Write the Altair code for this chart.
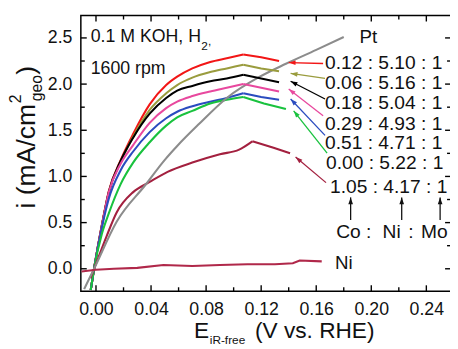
import math
import altair as alt
import pandas as pd

FONT = "Liberation Sans"
INK = "#111111"

X_DOMAIN = [-0.011, 0.2579]
Y_DOMAIN = [-0.243, 2.742]
W, H = 376, 280

# ---------------- curves ----------------
SERIES = ["0.12 : 5.10 : 1", "0.06 : 5.16 : 1", "0.18 : 5.04 : 1", "0.29 : 4.93 : 1",
          "0.51 : 4.71 : 1", "0.00 : 5.22 : 1", "1.05 : 4.17 : 1", "Pt", "Ni"]
COLORS = ["#f21616", "#9a9c3e", "#000000", "#e8489e", "#2b4cbf", "#19c23e",
          "#a3203f", "#8c8c8c", "#b0284a"]

alloy_x = [-0.0038, -0.0014, 0.0043, 0.0093, 0.018, 0.027, 0.039, 0.051, 0.059,
           0.07, 0.083, 0.095, 0.107, 0.12, 0.133]
green_x = [-0.0038, -0.0014, 0.0043, 0.0093, 0.018, 0.027, 0.039, 0.051, 0.059,
           0.07, 0.083, 0.095, 0.107, 0.122, 0.138]
red_y = [-0.23, 0.0, 0.48, 0.84, 1.18, 1.46, 1.78, 1.99, 2.08, 2.17, 2.24, 2.28, 2.32, 2.29, 2.25]
olive_y = [-0.23, 0.0, 0.47, 0.83, 1.16, 1.43, 1.72, 1.90, 1.99, 2.07, 2.13, 2.17, 2.21, 2.17, 2.14]
black_y = [-0.23, 0.0, 0.47, 0.83, 1.17, 1.42, 1.68, 1.85, 1.93, 1.98, 2.03, 2.06, 2.10, 2.06, 2.02]
pink_y = [-0.23, 0.0, 0.47, 0.83, 1.14, 1.34, 1.58, 1.74, 1.81, 1.87, 1.92, 1.96, 2.00, 1.96, 1.92]
blue_y = [-0.23, 0.0, 0.45, 0.76, 1.07, 1.27, 1.48, 1.63, 1.70, 1.76, 1.81, 1.85, 1.90, 1.86, 1.83]
green_y = [-0.23, 0.0, 0.38, 0.60, 0.92, 1.15, 1.37, 1.55, 1.64, 1.71, 1.79, 1.83, 1.86, 1.79, 1.73]

maroon_x = [-0.004, -0.0014, 0.0079, 0.015, 0.027, 0.039, 0.052, 0.07, 0.09, 0.104, 0.1136, 0.129, 0.141]
maroon_y = [-0.10, 0.0, 0.36, 0.61, 0.83, 0.94, 1.05, 1.15, 1.24, 1.29, 1.38, 1.31, 1.25]

pt_x = [-0.0086, -0.0014, 0.015, 0.036, 0.05, 0.059, 0.075, 0.095, 0.119, 0.138, 0.16, 0.180]
pt_y = [-0.22, 0.0, 0.51, 0.91, 1.18, 1.33, 1.57, 1.85, 2.08, 2.22, 2.37, 2.51]

ni_x = [-0.0105, 0.0, 0.013, 0.03, 0.049, 0.07, 0.09, 0.11, 0.13, 0.143, 0.148, 0.164]
ni_y = [-0.03, -0.01, 0.0, 0.01, 0.04, 0.03, 0.04, 0.05, 0.05, 0.06, 0.09, 0.08]

# (name, x, y, index of the kink; points after it are drawn straight)
CURVES = [
    (SERIES[0], alloy_x, red_y, 12),
    (SERIES[1], alloy_x, olive_y, 12),
    (SERIES[2], alloy_x, black_y, 12),
    (SERIES[3], alloy_x, pink_y, 12),
    (SERIES[4], alloy_x, blue_y, 12),
    (SERIES[5], green_x, green_y, 12),
    (SERIES[6], maroon_x, maroon_y, 10),
    (SERIES[7], pt_x, pt_y, None),
    (SERIES[8], ni_x, ni_y, 0),
]

rise, fall = [], []
for name, xs, ys, k in CURVES:
    for i, (xv, yv) in enumerate(zip(xs, ys)):
        if k is None or i <= k:
            rise.append(dict(series=name, x=xv, y=yv, o=i))
        if k is not None and i >= k:
            fall.append(dict(series=name, x=xv, y=yv, o=i))
rise_df = pd.DataFrame(rise)
fall_df = pd.DataFrame(fall)

# ---------------- annotations ----------------
arrow_series = SERIES[:7]
arrow_tx = [0.165, 0.1664, 0.1664, 0.165, 0.1664, 0.1679, 0.1671]
arrow_ty = [2.223, 2.063, 1.839, 1.658, 1.445, 1.253, 0.933]
arrow_hx = [0.140, 0.1414, 0.1414, 0.140, 0.1414, 0.1436, 0.145]
arrow_hy = [2.233, 2.116, 2.031, 1.946, 1.839, 1.711, 1.21]

up_x = [0.185, 0.2221, 0.25]
up_tail_y = [0.528, 0.528, 0.528]
up_head_y = [0.773, 0.773, 0.773]

PXX = W / (X_DOMAIN[1] - X_DOMAIN[0])
PXY = H / (Y_DOMAIN[1] - Y_DOMAIN[0])


def head_angle(tx, ty, hx, hy):
    dx = (hx - tx) * PXX
    dy = -(hy - ty) * PXY
    return math.degrees(math.atan2(dx, -dy)) % 360


arrows_df = pd.DataFrame(dict(series=arrow_series, tx=arrow_tx, ty=arrow_ty,
                              hx=arrow_hx, hy=arrow_hy))
arrows_df["angle"] = [head_angle(a, b, c, d) for a, b, c, d in
                      zip(arrow_tx, arrow_ty, arrow_hx, arrow_hy)]
up_df = pd.DataFrame(dict(tx=up_x, ty=up_tail_y, hx=up_x, hy=up_head_y))
up_df["angle"] = [head_angle(a, b, c, d) for a, b, c, d in
                  zip(up_x, up_tail_y, up_x, up_head_y)]

label_text = ["0.12 : 5.10 : 1", "0.06 : 5.16 : 1", "0.18 : 5.04 : 1", "0.29 : 4.93 : 1",
              "0.51 : 4.71 : 1", "0.00 : 5.22 : 1", "1.05 : 4.17 : 1",
              "Co", ":", "Ni", ":", "Mo",
              "Ni", "Pt", "0.1 M KOH, H", "1600 rpm"]
label_x = [0.1664, 0.1664, 0.1664, 0.1664, 0.1664, 0.1671, 0.1700,
           0.1745, 0.1962, 0.2082, 0.2268, 0.2361,
           0.1736, 0.1914, -0.0038, -0.0038]
label_y = [2.223, 2.009, 1.796, 1.572, 1.359, 1.146, 0.880,
           0.400, 0.400, 0.400, 0.400, 0.400,
           0.059, 2.511, 2.511, 2.159]
label_size = [19.5, 19.5, 19.5, 19.5, 19.5, 19.5, 19.5,
              19.5, 19.5, 19.5, 19.5, 19.5,
              19, 19, 18, 18]
labels_df = pd.DataFrame(dict(t=label_text, x=label_x, y=label_y, s=label_size))

small_text = ["2", ","]
small_x = [0.0764, 0.0814]
small_y = [2.415, 2.47]
small_df = pd.DataFrame(dict(t=small_text, x=small_x, y=small_y))

# tick positions
x_major = [0.0, 0.04, 0.08, 0.12, 0.16, 0.20, 0.24]
x_minor = [0.02, 0.06, 0.10, 0.14, 0.18, 0.22]
y_major = [0.0, 0.5, 1.0, 1.5, 2.0, 2.5]
y_minor = [0.25, 0.75, 1.25, 1.75, 2.25]

XS = alt.Scale(domain=X_DOMAIN, nice=False, zero=False)
YS = alt.Scale(domain=Y_DOMAIN, nice=False, zero=False)
CS = alt.Scale(domain=SERIES, range=COLORS)

x_axis = alt.Axis(values=x_major, format=".2f", ticks=False, grid=False, domain=False,
                  labelFont=FONT, labelFontSize=18, labelColor=INK, labelPadding=10,
                  title=None, labelFlush=False)
y_axis = alt.Axis(values=y_major, format=".1f", ticks=False, grid=False, domain=False,
                  labelFont=FONT, labelFontSize=18, labelColor=INK, labelPadding=9,
                  title=None)


def X(field):
    return alt.X(field, scale=XS, axis=x_axis, title=None)


def Y(field):
    return alt.Y(field, scale=YS, axis=y_axis, title=None)


COL = alt.Color("series:N", scale=CS, legend=None)

rise_layer = alt.Chart(rise_df).mark_line(interpolate="monotone", strokeWidth=2.1, clip=True).encode(
    x=X("x:Q"), y=Y("y:Q"), color=COL, detail="series:N", order="o:Q",
)
fall_layer = alt.Chart(fall_df).mark_line(interpolate="linear", strokeWidth=2.1, clip=True).encode(
    x=X("x:Q"), y=Y("y:Q"), color=COL, detail="series:N", order="o:Q",
)

HEAD = "M0,0L-0.75,2.2L0.75,2.2Z"

arrow_lines = alt.Chart(arrows_df).mark_rule(strokeWidth=1.3).encode(
    x=X("tx:Q"), y=Y("ty:Q"),
    x2=alt.X2("hx:Q", title=None), y2=alt.Y2("hy:Q", title=None),
    color=COL,
)
arrow_heads = alt.Chart(arrows_df).mark_point(shape=HEAD, filled=True, size=40, opacity=1).encode(
    x=X("hx:Q"), y=Y("hy:Q"),
    angle=alt.Angle("angle:Q", scale=None),
    color=COL,
)
up_lines = alt.Chart(up_df).mark_rule(strokeWidth=1.3, color=INK).encode(
    x=X("tx:Q"), y=Y("ty:Q"),
    x2=alt.X2("hx:Q", title=None), y2=alt.Y2("hy:Q", title=None),
)
up_heads = alt.Chart(up_df).mark_point(shape=HEAD, filled=True, size=40, opacity=1, color=INK).encode(
    x=X("hx:Q"), y=Y("hy:Q"),
    angle=alt.Angle("angle:Q", scale=None),
)

labels = alt.Chart(labels_df).mark_text(align="left", baseline="middle", font=FONT, color=INK).encode(
    x=X("x:Q"), y=Y("y:Q"),
    text="t:N", size=alt.Size("s:Q", scale=None),
)
small = alt.Chart(small_df).mark_text(align="left", baseline="middle", font=FONT, color=INK, fontSize=12).encode(
    x=X("x:Q"), y=Y("y:Q"), text="t:N",
)


# inward ticks on all four sides
def xticks(vals, length):
    d = pd.DataFrame(dict(x=vals))
    bot = alt.Chart(d).mark_rule(color="black", strokeWidth=1.4).encode(
        x=X("x:Q"), y=alt.value(H), y2=alt.value(H - length))
    top = alt.Chart(d).mark_rule(color="black", strokeWidth=1.4).encode(
        x=X("x:Q"), y=alt.value(0), y2=alt.value(length))
    return [bot, top]


def yticks(vals, length):
    d = pd.DataFrame(dict(y=vals))
    left = alt.Chart(d).mark_rule(color="black", strokeWidth=1.4).encode(
        y=Y("y:Q"), x=alt.value(0), x2=alt.value(length))
    right = alt.Chart(d).mark_rule(color="black", strokeWidth=1.4).encode(
        y=Y("y:Q"), x=alt.value(W), x2=alt.value(W - length))
    return [left, right]


tick_layers = xticks(x_major, 6) + xticks(x_minor, 4) + yticks(y_major, 6) + yticks(y_minor, 4)

# axis titles (with super/subscripts)
ttl_df = pd.DataFrame(dict(k=[0]))


def ttl(text, px, py, size, angle=0):
    kw = dict(align="left", baseline="middle" if angle else "alphabetic", font=FONT,
              color=INK, fontSize=size, text=text)
    if angle:
        kw["angle"] = angle
    return alt.Chart(ttl_df).mark_text(**kw).encode(x=alt.value(px), y=alt.value(py))


titles = [
    ttl("i (mA/cm", -55, 196, 27, 270),
    ttl("2", -66, 89, 16, 270),
    ttl("geo", -44, 87, 16, 270),
    ttl(")", -55, 60, 27, 270),
    ttl("E", 115, 328, 23),
    ttl("iR-free", 131, 334, 12),
    ttl("(V vs. RHE)", 177, 328, 23),
]

chart = alt.layer(
    rise_layer, fall_layer, arrow_lines, arrow_heads, up_lines, up_heads, labels, small,
    *tick_layers, *titles
).properties(
    width=W, height=H,
    autosize=alt.AutoSizeParams(type="none"),
    padding={"left": 74, "top": 5, "right": -1, "bottom": 56},
    background="white",
).configure_view(stroke="black", strokeWidth=1.5)

chart.save("out.html", embed_options={"renderer": "svg", "actions": False})
